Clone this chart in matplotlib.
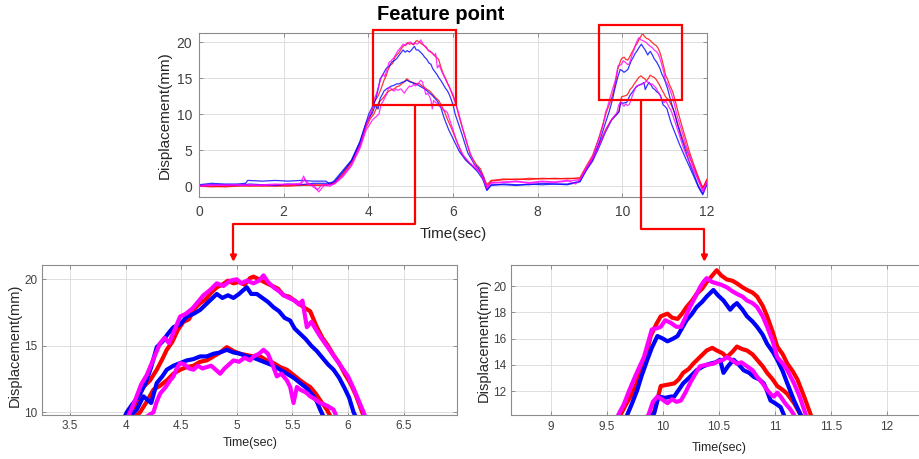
import numpy as np
import matplotlib.pyplot as plt
from matplotlib.patches import Rectangle, FancyArrowPatch
from matplotlib.path import Path

plt.rcParams['font.family'] = ['Liberation Sans', 'DejaVu Sans']

# (time [s], displacement [mm]) samples for each trace
red_hi = [(0.0, 0.0), (0.3, -0.1), (0.6, 0.0), (0.9, 0.1), (1.2, 0.0), (1.5, 0.1), (1.8, 0.0), (2.1, 0.1),
          (2.4, 0.2), (2.7, 0.1), (3.0, 0.2), (3.2, 0.5), (3.4, 1.8), (3.6, 3.4), (3.8, 5.8), (3.95, 8.6),
          (4.07, 10.0), (4.12, 11.2), (4.16, 11.9), (4.22, 12.4), (4.28, 13.2), (4.33, 14.0), (4.37, 14.7),
          (4.42, 15.3), (4.47, 16.2), (4.52, 16.8), (4.57, 17.0), (4.62, 17.8), (4.67, 18.2), (4.72, 18.5),
          (4.77, 19.0), (4.82, 19.4), (4.87, 19.6), (4.92, 19.9), (4.97, 19.7), (5.02, 19.8), (5.07, 19.6),
          (5.12, 20.1), (5.15, 20.2), (5.2, 20.0), (5.27, 19.7), (5.32, 19.5), (5.37, 19.3), (5.42, 18.8),
          (5.47, 18.7), (5.52, 18.4), (5.57, 18.1), (5.62, 17.8), (5.66, 17.6), (5.72, 16.4), (5.77, 15.6),
          (5.82, 15.0), (5.87, 14.3), (5.92, 13.7), (5.97, 12.9), (6.02, 12.2), (6.07, 11.3), (6.11, 10.4),
          (6.15, 9.5), (6.25, 7.5), (6.4, 4.5), (6.55, 3.0), (6.65, 2.4), (6.8, 0.2), (6.9, 0.8), (7.2, 1.0),
          (7.5, 0.9), (7.8, 1.1), (8.1, 1.0), (8.4, 1.1), (8.7, 1.0), (9.0, 1.2), (9.15, 2.8), (9.3, 4.3),
          (9.45, 6.8), (9.55, 8.8), (9.62, 10.2), (9.67, 11.0), (9.71, 11.6), (9.76, 12.5), (9.8, 13.4),
          (9.85, 14.8), (9.89, 16.2), (9.94, 17.1), (9.98, 17.7), (10.04, 17.9), (10.08, 17.6), (10.13, 17.5),
          (10.17, 17.9), (10.21, 18.4), (10.26, 18.9), (10.3, 19.4), (10.35, 19.8), (10.39, 20.3),
          (10.44, 20.8), (10.48, 21.2), (10.52, 20.8), (10.57, 20.5), (10.62, 20.4), (10.66, 20.2),
          (10.71, 19.9), (10.75, 19.7), (10.8, 19.5), (10.84, 19.2), (10.89, 18.5), (10.93, 17.7),
          (10.98, 16.5), (11.02, 15.4), (11.07, 14.8), (11.11, 14.1), (11.16, 13.5), (11.2, 12.9),
          (11.26, 11.6), (11.32, 10.2), (11.4, 8.5), (11.5, 6.5), (11.6, 4.5), (11.7, 2.8), (11.8, 1.2),
          (11.9, -0.3), (12.0, 1.0)]

red_lo = [(0.0, 0.1), (0.3, 0.0), (0.6, -0.1), (0.9, 0.0), (1.2, 0.1), (1.5, 0.0), (1.8, 0.1), (2.1, 0.0),
          (2.4, 0.1), (2.7, 0.2), (3.0, 0.1), (3.2, 0.4), (3.4, 1.6), (3.6, 3.2), (3.8, 5.5), (3.95, 8.2),
          (4.05, 9.4), (4.13, 10.0), (4.19, 10.8), (4.25, 11.7), (4.31, 12.0), (4.37, 12.4), (4.43, 12.9),
          (4.49, 13.2), (4.55, 13.4), (4.61, 13.5), (4.67, 13.8), (4.73, 13.9), (4.79, 14.2), (4.85, 14.5),
          (4.91, 14.9), (4.97, 14.6), (5.03, 14.4), (5.09, 14.3), (5.15, 14.2), (5.21, 14.2), (5.27, 13.9),
          (5.33, 13.7), (5.39, 13.4), (5.45, 13.2), (5.51, 12.8), (5.57, 12.4), (5.62, 12.1), (5.66, 11.9),
          (5.71, 11.4), (5.75, 10.9), (5.81, 10.2), (5.86, 9.4), (5.95, 8.2), (6.05, 6.8), (6.2, 4.6),
          (6.35, 3.4), (6.5, 2.6), (6.62, 2.2), (6.8, -0.2), (6.9, 0.7), (7.2, 0.9), (7.5, 1.0), (7.8, 0.9),
          (8.1, 1.1), (8.4, 1.0), (8.7, 1.1), (9.0, 1.0), (9.15, 2.5), (9.3, 3.9), (9.45, 5.8), (9.6, 7.8),
          (9.75, 9.3), (9.85, 9.9), (9.92, 10.4), (9.98, 12.4), (10.04, 12.5), (10.1, 12.6), (10.14, 12.9),
          (10.18, 13.4), (10.23, 13.7), (10.27, 14.1), (10.33, 14.6), (10.39, 15.1), (10.44, 15.3),
          (10.48, 15.1), (10.53, 14.9), (10.57, 14.6), (10.62, 15.0), (10.66, 15.4), (10.71, 15.2),
          (10.75, 15.1), (10.8, 14.8), (10.84, 14.4), (10.89, 13.9), (10.93, 13.4), (10.98, 12.9),
          (11.02, 12.4), (11.07, 12.1), (11.11, 11.8), (11.17, 11.1), (11.23, 10.2), (11.3, 8.8), (11.4, 7.0),
          (11.5, 5.3), (11.6, 3.8), (11.7, 2.5), (11.8, 1.0), (11.9, -0.2), (12.0, 0.8)]

blue_hi = [(0.0, 0.2), (0.3, 0.4), (0.6, 0.3), (0.9, 0.3), (1.1, 0.4), (1.15, 0.8), (1.5, 0.7), (1.8, 0.8),
           (2.1, 0.7), (2.4, 0.8), (2.7, 0.7), (3.0, 0.7), (3.1, 0.2), (3.2, 0.8), (3.4, 2.2), (3.6, 3.6),
           (3.8, 6.2), (3.95, 8.9), (4.01, 10.0), (4.06, 10.6), (4.1, 11.0), (4.13, 11.4), (4.18, 12.2),
           (4.23, 13.4), (4.28, 14.9), (4.33, 15.3), (4.38, 15.9), (4.43, 16.4), (4.49, 16.6), (4.55, 17.2),
           (4.61, 17.4), (4.67, 17.7), (4.72, 18.1), (4.77, 18.5), (4.82, 18.9), (4.87, 18.6), (4.92, 18.8),
           (4.97, 18.6), (5.02, 18.9), (5.06, 19.2), (5.09, 19.4), (5.13, 18.9), (5.18, 18.9), (5.23, 18.6),
           (5.28, 18.3), (5.33, 17.9), (5.38, 17.6), (5.43, 17.1), (5.48, 16.9), (5.52, 16.3), (5.57, 15.9),
           (5.62, 15.5), (5.67, 15.0), (5.72, 14.6), (5.77, 14.1), (5.82, 13.6), (5.87, 13.2), (5.92, 12.6),
           (5.97, 11.8), (6.01, 11.1), (6.05, 10.0), (6.12, 8.8), (6.2, 7.4), (6.35, 4.6), (6.5, 3.1),
           (6.6, 2.5), (6.72, 1.2), (6.8, -0.5), (6.9, 0.2), (7.2, 0.2), (7.5, 0.1), (7.8, 0.3), (8.1, 0.2),
           (8.4, 0.3), (8.7, 0.2), (9.0, 0.6), (9.15, 2.3), (9.3, 3.7), (9.45, 6.0), (9.58, 8.4), (9.68, 10.2),
           (9.72, 11.0), (9.77, 12.1), (9.81, 13.2), (9.86, 14.4), (9.9, 15.3), (9.95, 16.2), (10.0, 16.0),
           (10.04, 15.8), (10.09, 16.0), (10.13, 16.2), (10.17, 16.8), (10.21, 17.4), (10.26, 17.9),
           (10.3, 18.4), (10.35, 18.8), (10.39, 19.2), (10.45, 19.7), (10.49, 19.3), (10.54, 18.9),
           (10.6, 18.2), (10.63, 18.5), (10.66, 18.7), (10.71, 18.2), (10.75, 17.7), (10.8, 17.3),
           (10.84, 16.9), (10.89, 16.3), (10.93, 15.6), (10.98, 15.0), (11.02, 14.4), (11.07, 13.5),
           (11.11, 12.6), (11.17, 11.3), (11.23, 10.2), (11.3, 8.6), (11.4, 6.6), (11.5, 4.8), (11.6, 3.0),
           (11.7, 1.5), (11.8, 0.0), (11.9, -1.0), (12.0, 0.4)]

blue_lo = [(0.0, 0.1), (0.3, 0.2), (0.6, 0.2), (0.9, 0.1), (1.2, 0.3), (1.5, 0.2), (1.8, 0.1), (2.1, 0.3),
           (2.4, 0.2), (2.7, 0.4), (3.0, 0.4), (3.2, 0.6), (3.4, 2.0), (3.6, 3.5), (3.8, 6.0), (3.95, 8.8),
           (4.05, 9.8), (4.1, 10.2), (4.16, 11.2), (4.2, 10.9), (4.23, 10.7), (4.26, 11.6), (4.28, 12.2),
           (4.33, 12.7), (4.37, 13.2), (4.43, 13.5), (4.49, 13.7), (4.55, 13.9), (4.61, 14.0), (4.67, 14.2),
           (4.73, 14.2), (4.79, 14.4), (4.85, 14.5), (4.91, 14.7), (4.97, 14.5), (5.03, 14.4), (5.09, 14.2),
           (5.15, 14.1), (5.21, 13.9), (5.27, 13.7), (5.33, 13.5), (5.39, 13.2), (5.45, 12.9), (5.51, 12.6),
           (5.57, 12.2), (5.63, 11.8), (5.69, 11.2), (5.72, 10.8), (5.75, 10.2), (5.8, 9.3), (5.9, 7.8),
           (6.0, 6.6), (6.15, 4.8), (6.3, 3.6), (6.45, 2.8), (6.58, 2.0), (6.7, 1.0), (6.8, -0.6), (6.9, 0.1),
           (7.2, 0.3), (7.5, 0.2), (7.8, 0.2), (8.1, 0.4), (8.4, 0.3), (8.7, 0.3), (9.0, 0.7), (9.15, 2.2),
           (9.3, 3.5), (9.45, 5.4), (9.6, 7.5), (9.75, 9.2), (9.86, 9.9), (9.92, 10.3), (9.96, 11.6),
           (10.02, 11.5), (10.07, 11.6), (10.1, 11.6), (10.14, 12.1), (10.18, 12.6), (10.23, 13.0),
           (10.3, 13.6), (10.36, 13.9), (10.42, 14.1), (10.47, 14.2), (10.51, 14.4), (10.54, 13.4),
           (10.58, 13.9), (10.63, 14.4), (10.68, 14.0), (10.72, 13.6), (10.77, 13.4), (10.81, 13.1),
           (10.86, 12.9), (10.9, 12.6), (10.93, 12.0), (10.96, 11.3), (11.0, 11.1), (11.05, 10.8),
           (11.08, 10.2), (11.15, 8.8), (11.25, 7.3), (11.35, 5.8), (11.5, 3.8), (11.6, 2.5), (11.7, 1.2),
           (11.8, -0.2), (11.9, -1.2), (12.0, 0.3)]

magenta_hi = [(0.0, 0.1), (0.3, 0.2), (0.6, 0.1), (0.9, 0.2), (1.2, 0.1), (1.5, 0.2), (1.8, 0.3), (2.1, 0.2),
              (2.4, 0.4), (2.47, 1.4), (2.55, 0.3), (2.7, 0.2), (2.83, -0.8), (2.95, 0.1), (3.1, 0.0),
              (3.2, 0.4), (3.4, 1.5), (3.6, 3.0), (3.8, 5.6), (3.95, 8.5), (4.04, 10.0), (4.09, 11.0),
              (4.14, 12.1), (4.19, 12.8), (4.24, 13.8), (4.28, 14.6), (4.31, 15.2), (4.35, 15.6), (4.39, 15.2),
              (4.43, 16.0), (4.49, 17.2), (4.54, 17.4), (4.6, 17.8), (4.65, 18.3), (4.7, 18.8), (4.76, 19.2),
              (4.82, 19.7), (4.88, 19.5), (4.94, 19.9), (5.0, 20.0), (5.04, 19.7), (5.09, 19.9), (5.15, 19.7),
              (5.2, 19.9), (5.24, 20.3), (5.28, 19.8), (5.33, 19.4), (5.38, 19.1), (5.42, 18.8), (5.47, 18.6),
              (5.52, 18.4), (5.56, 18.1), (5.59, 18.4), (5.63, 16.4), (5.67, 16.8), (5.72, 16.1), (5.75, 15.7),
              (5.8, 15.1), (5.85, 14.5), (5.9, 13.9), (5.95, 13.3), (6.0, 12.7), (6.05, 11.8), (6.1, 10.8),
              (6.14, 10.0), (6.22, 8.2), (6.35, 5.6), (6.5, 3.0), (6.6, 2.2), (6.7, 1.4), (6.8, -0.1),
              (6.9, 0.5), (7.2, 0.6), (7.5, 0.7), (7.8, 0.5), (8.1, 0.7), (8.4, 0.6), (8.7, 0.8), (8.9, 0.3),
              (9.0, 1.0), (9.15, 2.6), (9.3, 4.1), (9.45, 6.6), (9.55, 8.6), (9.6, 10.2), (9.65, 11.0),
              (9.7, 12.1), (9.76, 13.3), (9.83, 14.6), (9.87, 15.8), (9.9, 16.7), (9.95, 16.8), (9.98, 16.9),
              (10.02, 17.4), (10.07, 17.2), (10.12, 16.9), (10.16, 16.9), (10.2, 17.6), (10.24, 18.4),
              (10.29, 19.2), (10.33, 19.9), (10.36, 20.3), (10.39, 20.6), (10.44, 20.3), (10.48, 20.2),
              (10.52, 20.1), (10.57, 19.9), (10.62, 19.6), (10.66, 19.4), (10.71, 19.2), (10.75, 18.9),
              (10.8, 18.7), (10.84, 18.4), (10.89, 17.7), (10.93, 16.9), (10.98, 15.8), (11.02, 14.6),
              (11.07, 14.1), (11.11, 13.6), (11.17, 12.6), (11.22, 11.6), (11.26, 10.6), (11.3, 9.6),
              (11.4, 7.8), (11.5, 5.8), (11.6, 4.0), (11.7, 2.3), (11.8, 0.8), (11.9, -0.6), (12.0, 0.6)]

magenta_lo = [(0.0, 0.0), (0.3, 0.1), (0.6, 0.2), (0.9, 0.1), (1.2, 0.2), (1.5, 0.1), (1.8, 0.2), (2.1, 0.3),
              (2.4, 0.2), (2.5, 1.0), (2.6, 0.3), (2.8, -0.5), (2.9, 0.2), (3.1, 0.2), (3.2, 0.3), (3.4, 1.3),
              (3.6, 2.8), (3.8, 5.2), (3.95, 7.8), (4.1, 9.2), (4.25, 10.0), (4.28, 10.8), (4.31, 11.4),
              (4.36, 11.9), (4.4, 12.4), (4.43, 12.7), (4.46, 13.3), (4.49, 13.7), (4.53, 13.6), (4.57, 13.3),
              (4.61, 13.2), (4.65, 13.5), (4.69, 13.3), (4.73, 13.4), (4.77, 13.5), (4.81, 13.2), (4.85, 12.9),
              (4.89, 13.3), (4.93, 13.6), (4.97, 13.9), (5.02, 13.8), (5.07, 14.1), (5.12, 13.9), (5.15, 14.2),
              (5.2, 14.4), (5.24, 14.7), (5.28, 14.4), (5.32, 13.6), (5.36, 12.7), (5.4, 12.9), (5.45, 12.4),
              (5.48, 11.9), (5.51, 10.7), (5.54, 11.9), (5.57, 11.7), (5.62, 11.5), (5.66, 11.2), (5.7, 11.0),
              (5.75, 10.7), (5.81, 10.5), (5.87, 10.2), (5.9, 9.6), (6.0, 7.8), (6.1, 6.0), (6.25, 4.2),
              (6.4, 3.2), (6.55, 2.4), (6.65, 1.8), (6.8, -0.3), (6.9, 0.4), (7.2, 0.5), (7.5, 0.6), (7.8, 0.4),
              (8.1, 0.6), (8.4, 0.5), (8.7, 0.7), (9.0, 0.9), (9.15, 2.4), (9.3, 3.8), (9.45, 5.6), (9.6, 7.6),
              (9.72, 9.0), (9.82, 9.8), (9.87, 10.2), (9.91, 11.2), (9.95, 11.6), (9.99, 11.4), (10.04, 11.1),
              (10.08, 11.4), (10.12, 11.2), (10.16, 11.3), (10.2, 11.9), (10.24, 12.6), (10.28, 13.2),
              (10.33, 13.9), (10.38, 14.0), (10.45, 14.1), (10.5, 14.3), (10.54, 14.4), (10.57, 14.6),
              (10.61, 14.4), (10.66, 14.1), (10.7, 14.2), (10.75, 13.9), (10.8, 13.6), (10.84, 13.1),
              (10.89, 12.6), (10.93, 12.1), (10.96, 11.8), (10.99, 11.6), (11.02, 11.9), (11.05, 11.6),
              (11.09, 11.1), (11.14, 10.6), (11.17, 10.2), (11.25, 8.8), (11.35, 7.0), (11.45, 5.2),
              (11.55, 3.8), (11.65, 2.6), (11.75, 1.4), (11.85, 0.0), (11.92, -0.8), (12.0, 0.5)]

traces = [(red_hi, '#ff0000'), (red_lo, '#ff0000'),
          (blue_hi, '#0000ff'), (blue_lo, '#0000ff'),
          (magenta_hi, '#ff00ff'), (magenta_lo, '#ff00ff')]

# zoom windows on the overview: (x0, x1, y0, y1)
windows = [(4.11, 6.06, 11.25, 21.7), (9.46, 11.4, 11.9, 22.4)]


def style_axes(ax, size, xpad, ypad):
    ax.grid(True, color='#dedede', linewidth=0.7)
    ax.set_axisbelow(True)
    ax.tick_params(direction='in', top=True, right=True, length=3, width=0.6,
                   colors='#808080', labelcolor='#404040', labelsize=size)
    ax.tick_params(axis='x', pad=xpad)
    ax.tick_params(axis='y', pad=ypad)
    for sp in ax.spines.values():
        sp.set_color('#8c8c8c')
        sp.set_linewidth(0.8)


fig = plt.figure(figsize=(9.2, 4.59), dpi=100)
ax = fig.add_axes([0.2163, 0.5708, 0.5522, 0.3573])
ax1 = fig.add_axes([0.0453, 0.0969, 0.4514, 0.3258])
ax2 = fig.add_axes([0.5551, 0.0959, 0.4577, 0.3268])

for pts, col in traces:
    t, d = np.array(pts).T
    ax.plot(t, d, color=col, lw=0.9, alpha=0.8)
    ax1.plot(t, d, color=col, lw=3.0, solid_joinstyle='round')
    ax2.plot(t, d, color=col, lw=3.0, solid_joinstyle='round')

# overview
ax.set_xlim(0, 12)
ax.set_ylim(-1.5, 21.25)
ax.set_xticks(np.arange(0, 13, 2))
ax.set_yticks(np.arange(0, 21, 5))
style_axes(ax, 10, 6, 5)
ax.set_xlabel('Time(sec)', fontsize=11, color='#262626')
ax.set_ylabel('Displacement(mm)', fontsize=11, color='#262626')
ax.xaxis.set_label_coords(0.5, -0.18)
ax.yaxis.set_label_coords(-0.053, 0.5)
fig.text(441 / 920, 1 - 14 / 459, 'Feature point', ha='center', va='center',
         fontsize=14.5, fontweight='bold')

# zoomed views
ax1.set_xlim(3.245, 6.98)
ax1.set_ylim(9.83, 21.08)
ax1.set_xticks(np.arange(3.5, 6.6, 0.5))
ax1.set_xticklabels(['3.5', '4', '4.5', '5', '5.5', '6', '6.5'])
ax1.set_yticks([10, 15, 20])

ax2.set_xlim(8.64, 12.4)
ax2.set_ylim(10.2, 21.6)
ax2.set_xticks(np.arange(9, 12.1, 0.5))
ax2.set_xticklabels(['9', '9.5', '10', '10.5', '11', '11.5', '12'])
ax2.set_yticks(np.arange(12, 21, 2))

for a, ly in ((ax1, 0.465), (ax2, 0.5)):
    style_axes(a, 8.5, 4, 3)
    a.set_xlabel('Time(sec)', fontsize=9, color='#262626')
    a.set_ylabel('Displacement(mm)', fontsize=10.5, color='#262626')
    a.yaxis.set_label_coords(-0.048, ly)
ax1.xaxis.set_label_coords(0.501, -0.15)
ax2.xaxis.set_label_coords(0.496, -0.18)

# zoom boxes and connectors
for x0, x1, y0, y1 in windows:
    ax.add_patch(Rectangle((x0, y0), x1 - x0, y1 - y0, fill=False,
                           edgecolor='#ff0000', linewidth=1.6, clip_on=False, zorder=5))

to_fig = fig.transFigure.inverted()
links = [(ax1, 5.10, windows[0][2], 4.97, -5.3), (ax2, 10.44, windows[1][2], 10.37, -6.0)]
for target, xs, ys, xe, ymid in links:
    p0 = ax.transData.transform((xs, ys))
    p1 = ax.transData.transform((xs, ymid))
    p3 = target.transData.transform((xe, target.get_ylim()[1]))
    p3 = (p3[0], p3[1] + 3)
    p2 = (p3[0], p1[1])
    verts = to_fig.transform([p0, p1, p2, p3])
    arrow = FancyArrowPatch(path=Path(verts), arrowstyle='-|>', mutation_scale=9,
                            color='#ff0000', linewidth=1.6, transform=fig.transFigure)
    fig.add_artist(arrow)

fig.savefig('out.png', dpi=100)
